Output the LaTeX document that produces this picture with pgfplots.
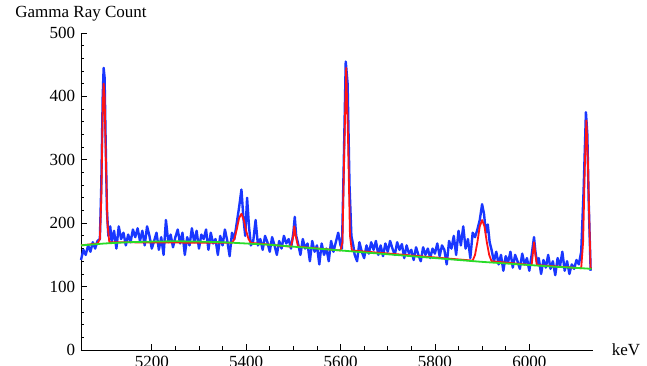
\documentclass[border=0pt]{standalone}
\usepackage{pgfplots}
\pgfplotsset{compat=1.18}
\usepackage{fontspec}
\setmainfont{Liberation Serif}
\definecolor{dblue}{RGB}{25,55,255}
\definecolor{dred}{RGB}{255,20,20}
\definecolor{dgreen}{RGB}{40,220,40}
\begin{document}
\fontsize{17}{20}\selectfont
\begin{tikzpicture}
\begin{axis}[name=ax,
  scale only axis, width=512pt, height=317pt,
  xmin=5050, xmax=6135, ymin=0, ymax=500,
  axis lines=left, axis line style={-, line width=0.8pt},
  tick align=inside, tick style={black, line width=0.8pt},
  major tick length=6pt, minor tick length=3.5pt,
  xtick={5200,5400,5600,5800,6000}, minor x tick num=3,
  ytick={0,100,200,300,400,500}, minor y tick num=4,
  tick label style={font=\fontsize{17}{20}\selectfont},
  /pgf/number format/assume math mode=true,
  /pgf/number format/1000 sep={},
  clip=false,
]
\addplot[dblue, line width=2.4pt, line join=round] coordinates {
(5050,142)(5055,158)(5060,150)(5065,165)(5070,155)(5075,170)(5080,160)(5085,172)(5090,175)
(5093,260)(5096,400)(5098,445)(5100,430)(5102,340)(5105,220)(5108,180)(5112,195)(5115,170)
(5120,188)(5125,160)(5130,195)(5135,175)(5140,185)(5145,165)(5150,182)(5155,170)(5160,190)
(5165,178)(5170,192)(5175,172)(5180,188)(5185,165)(5190,195)(5195,180)(5200,160)(5205,172)
(5210,185)(5215,158)(5220,178)(5225,150)(5230,205)(5235,170)(5240,182)(5245,162)(5250,178)
(5255,190)(5260,168)(5265,185)(5270,150)(5275,178)(5280,165)(5285,192)(5290,170)(5295,188)
(5300,160)(5305,182)(5310,175)(5315,190)(5320,158)(5325,185)(5330,168)(5335,175)(5340,150)
(5345,180)(5350,165)(5355,190)(5360,172)(5365,148)(5370,185)(5375,175)(5380,200)(5385,225)
(5390,253)(5394,210)(5398,180)(5402,240)(5406,195)(5410,165)(5415,172)(5420,205)(5425,165)
(5430,175)(5435,158)(5440,180)(5445,170)(5450,155)(5455,178)(5460,165)(5465,150)(5470,172)
(5475,160)(5480,180)(5485,168)(5490,175)(5495,160)(5500,185)(5503,210)(5506,180)(5510,168)
(5515,150)(5520,175)(5525,160)(5530,168)(5535,140)(5540,172)(5545,155)(5550,165)(5555,135)
(5560,168)(5565,150)(5570,160)(5575,140)(5580,172)(5585,155)(5590,170)(5595,185)(5600,165)
(5603,160)(5607,300)(5611,455)(5615,420)(5619,260)(5623,180)(5627,165)(5630,150)(5635,140)
(5640,170)(5645,155)(5650,145)(5655,165)(5660,152)(5665,170)(5670,158)(5675,172)(5680,150)
(5685,165)(5690,148)(5695,168)(5700,155)(5705,172)(5710,160)(5715,150)(5720,170)(5725,158)
(5730,167)(5735,145)(5740,165)(5745,152)(5750,158)(5755,142)(5760,162)(5765,150)(5770,140)
(5775,162)(5780,150)(5785,160)(5790,145)(5795,160)(5800,152)(5805,168)(5810,148)(5815,165)
(5820,158)(5825,135)(5830,172)(5835,160)(5840,180)(5845,150)(5850,188)(5855,165)(5860,195)
(5865,160)(5870,175)(5875,145)(5880,185)(5885,178)(5890,190)(5895,205)(5900,230)(5904,215)
(5908,185)(5912,198)(5916,170)(5920,158)(5925,140)(5930,155)(5935,135)(5940,150)(5945,125)
(5950,148)(5955,138)(5960,155)(5965,130)(5970,150)(5975,140)(5980,128)(5985,152)(5990,135)
(5995,145)(6000,125)(6005,150)(6010,178)(6013,155)(6017,135)(6020,145)(6025,120)(6030,142)
(6035,130)(6040,150)(6045,128)(6050,140)(6055,118)(6060,145)(6065,132)(6070,155)(6075,125)
(6080,140)(6085,120)(6090,135)(6095,128)(6100,142)(6105,135)(6110,155)(6115,250)(6120,375)
(6123,340)(6126,230)(6130,125)
};
\addplot[dred, line width=1.8pt, line join=round] coordinates {
(5050,165)(5085,168)(5090,175)(5093,240)(5096,380)(5098,420)(5100,400)(5103,290)(5106,200)
(5110,170)(5370,169)(5375,175)(5380,190)(5385,208)(5390,215)(5395,205)(5400,188)(5405,175)
(5410,169)(5495,163)(5500,180)(5502,195)(5505,180)(5510,163)(5600,157)(5604,170)(5608,320)
(5612,445)(5616,330)(5620,180)(5624,157)(5880,141)(5885,150)(5890,170)(5895,195)(5900,205)
(5905,195)(5910,170)(5915,150)(5920,140)(6005,134)(6008,155)(6010,170)(6013,150)(6016,134)
(6110,129)(6114,170)(6118,300)(6121,362)(6124,300)(6128,180)(6130,128)
};
\addplot[dgreen, line width=1.8pt] coordinates {
(5050,165)(5100,168)(5150,170)(5200,171)(5250,171.5)(5300,171)(5350,170)(5400,168)
(5450,166)(5500,163)(5550,160)(5600,157)(5650,154)(5700,151)(5750,148)(5800,145)
(5850,142)(5900,139)(5950,136.5)(6000,134)(6050,131.5)(6100,129.5)(6132,128)
};
\node[anchor=base, yshift=15pt] at (rel axis cs:0,1) {Gamma Ray Count};
\node[anchor=west, xshift=13pt] at (rel axis cs:1,0) {keV};
\end{axis}
\pgfresetboundingbox
\path ([shift={(-81pt,-16pt)}]ax.south west) rectangle ([shift={(566pt,350pt)}]ax.south west);
\end{tikzpicture}
\end{document}
